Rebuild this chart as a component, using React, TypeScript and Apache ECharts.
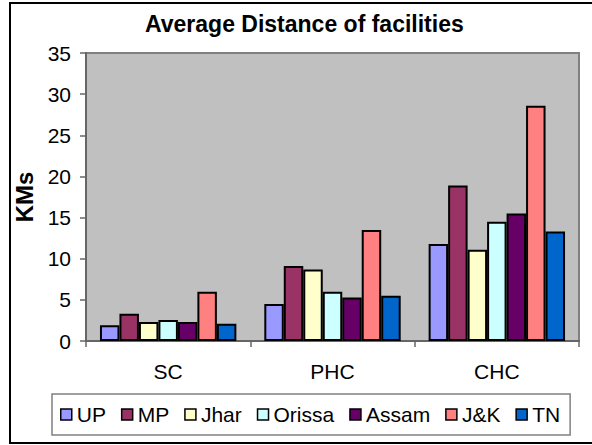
import React, { useEffect, useRef } from "react";
import * as echarts from "echarts";

const categories = ["SC", "PHC", "CHC"];
const seriesNames = ["UP", "MP", "Jhar", "Orissa", "Assam", "J&K", "TN"];
const upValues = [1.9, 4.5, 11.8];
const mpValues = [3.3, 9.1, 18.9];
const jharValues = [2.3, 8.7, 11.1];
const orissaValues = [2.55, 6.0, 14.5];
const assamValues = [2.3, 5.3, 15.5];
const jkValues = [6.0, 13.5, 28.6];
const tnValues = [2.1, 5.5, 13.3];
const seriesValues = [upValues, mpValues, jharValues, orissaValues, assamValues, jkValues, tnValues];
const seriesColors = ["#9999FF", "#993366", "#FFFFCC", "#CCFFFF", "#660066", "#FF8080", "#0066CC"];

const FONT = "'Liberation Sans', Arial, sans-serif";

export default function App() {
  const ref = useRef<HTMLDivElement>(null);
  useEffect(() => {
    if (!ref.current) return;
    const chart = echarts.init(ref.current, undefined, { renderer: "svg" });
    chart.setOption({
      animation: false,
      backgroundColor: "#ffffff",
      textStyle: { fontFamily: FONT },
      title: {
        text: "Average Distance of facilities",
        left: 145,
        top: 12,
        padding: 0,
        textStyle: { fontFamily: FONT, fontSize: 23, fontWeight: "bold", color: "#000" },
      },
      graphic: [
        {
          type: "rect",
          shape: { x: 10, y: 3, width: 600, height: 440 },
          style: { fill: "none", stroke: "#000", lineWidth: 2 },
          silent: true,
          z: 100,
        },
      ],
      legend: {
        data: seriesNames,
        left: 52,
        top: 394,
        padding: [10, 10, 10, 8],
        itemGap: 15,
        itemWidth: 11,
        itemHeight: 11,
        itemTextGap: 8,
        icon: "rect",
        borderColor: "#808080",
        borderWidth: 1.5,
        itemStyle: { borderColor: "#000", borderWidth: 1.5 },
        textStyle: { fontFamily: FONT, fontSize: 21, color: "#000" },
      },
      grid: {
        left: 86,
        right: 13,
        top: 53,
        bottom: 104,
        show: true,
        backgroundColor: "#C0C0C0",
        borderColor: "#808080",
        borderWidth: 2,
        containLabel: false,
      },
      xAxis: {
        type: "category",
        data: categories,
        axisLine: { lineStyle: { color: "#666", width: 2 } },
        axisTick: { show: true, length: 6, lineStyle: { color: "#666", width: 1.5 } },
        axisLabel: { fontFamily: FONT, fontSize: 21, color: "#000", margin: 20 },
      },
      yAxis: {
        type: "value",
        min: 0,
        max: 35,
        interval: 5,
        name: "KMs",
        nameLocation: "middle",
        nameGap: 44,
        nameTextStyle: { fontFamily: FONT, fontSize: 24, fontWeight: "bold", color: "#000" },
        axisLine: { show: true, lineStyle: { color: "#666", width: 2 } },
        axisTick: { show: true, length: 6, lineStyle: { color: "#666", width: 1.5 } },
        axisLabel: { fontFamily: FONT, fontSize: 21, color: "#000", margin: 15 },
        splitLine: { show: false },
      },
      series: seriesNames.map((name, i) => ({
        name,
        type: "bar",
        data: seriesValues[i],
        barGap: "0%",
        barCategoryGap: "17%",
        itemStyle: { color: seriesColors[i], borderColor: "#000", borderWidth: 2 },
      })),
    });
    return () => chart.dispose();
  }, []);
  return (
    <div
      ref={ref}
      style={{ position: "absolute", left: 0, top: 0, width: 592, height: 445 }}
    />
  );
}
